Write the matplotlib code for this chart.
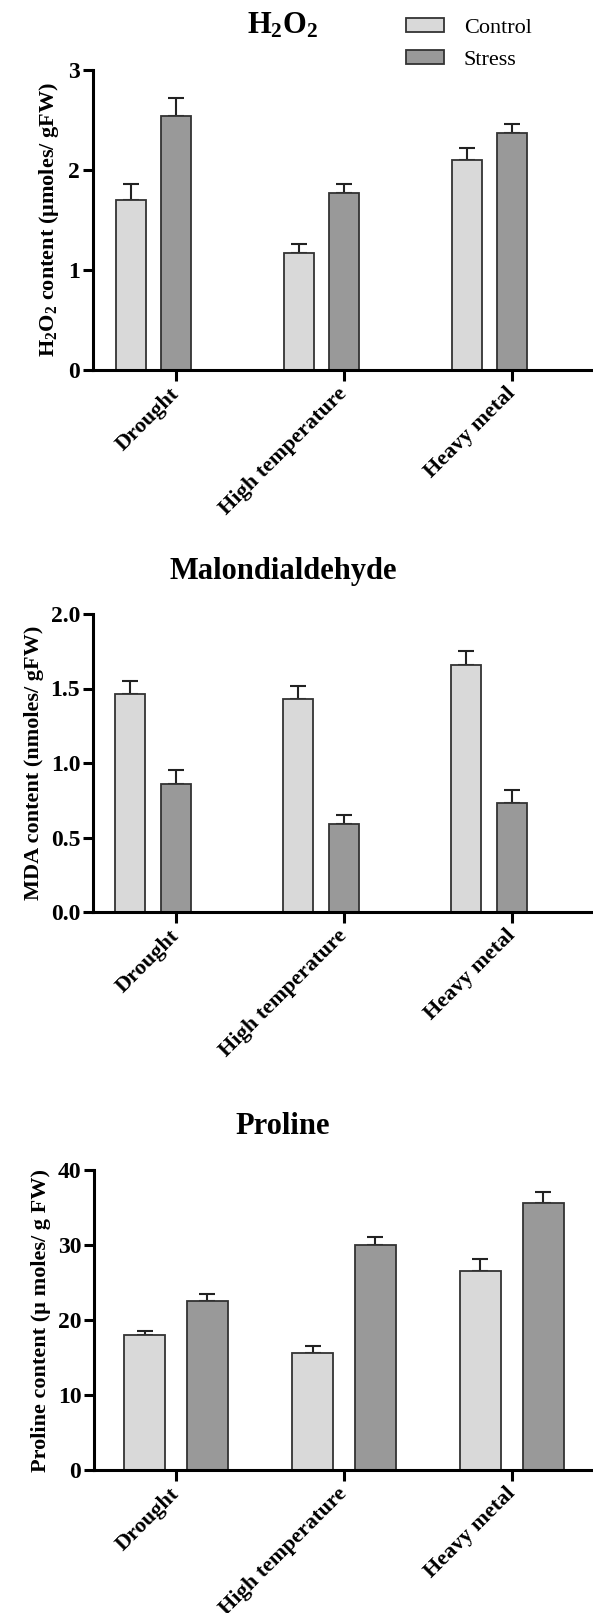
import numpy as np
import matplotlib
matplotlib.use("Agg")
import matplotlib.pyplot as plt

plt.rcParams['font.family'] = ['Liberation Serif', 'DejaVu Serif']
plt.rcParams['mathtext.fontset'] = 'custom'
plt.rcParams['mathtext.rm'] = 'Liberation Serif'
plt.rcParams['mathtext.bf'] = 'Liberation Serif:bold'
plt.rcParams['mathtext.default'] = 'bf'

# data
categories = ['Drought', 'High temperature', 'Heavy metal']

h2o2_control = [1.70, 1.17, 2.10]
h2o2_control_err = [0.16, 0.09, 0.12]
h2o2_stress = [2.54, 1.77, 2.37]
h2o2_stress_err = [0.18, 0.09, 0.09]

mda_control = [1.46, 1.43, 1.66]
mda_control_err = [0.09, 0.09, 0.09]
mda_stress = [0.86, 0.59, 0.73]
mda_stress_err = [0.09, 0.06, 0.09]

pro_control = [18.0, 15.6, 26.6]
pro_control_err = [0.6, 0.9, 1.5]
pro_stress = [22.6, 30.0, 35.6]
pro_stress_err = [0.9, 1.1, 1.5]

c_light = '#d9d9d9'
c_dark = '#999999'
edge = '#333333'

fig = plt.figure(figsize=(5.93, 16.13), dpi=100)
H = 1613.0
W = 593.0


def panel(top_px, bot_px, left_px, ctrl, ctrl_err, strs, strs_err,
          offs, width, ylim, yticks, fmt, ylabel):
    ax = fig.add_axes([left_px / W, 1 - bot_px / H, 1 - left_px / W,
                       (bot_px - top_px) / H])
    x = np.arange(len(categories))
    b1 = ax.bar(x + offs[0], ctrl, width, color=c_light, edgecolor=edge,
                linewidth=1.3, label='Control', zorder=2)
    b2 = ax.bar(x + offs[1], strs, width, color=c_dark, edgecolor=edge,
                linewidth=1.3, label='Stress', zorder=2)
    ax.errorbar(x + offs[0], ctrl, yerr=[np.zeros(3), ctrl_err], fmt='none',
                ecolor='#222222', elinewidth=1.5, capsize=6, capthick=1.5, zorder=1)
    ax.errorbar(x + offs[1], strs, yerr=[np.zeros(3), strs_err], fmt='none',
                ecolor='#222222', elinewidth=1.5, capsize=6, capthick=1.5, zorder=1)

    tick0 = 176.0
    step = 168.0
    ax.set_xlim((left_px - tick0) / step, (W - tick0) / step)
    ax.set_ylim(*ylim)
    ax.set_yticks(yticks)
    ax.set_yticklabels([fmt.format(v) for v in yticks], fontsize=17,
                       fontweight='bold')
    ax.set_xticks(x)
    ax.set_xticklabels(categories, rotation=45, ha='right', va='center',
                       rotation_mode='anchor', fontsize=16, fontweight='bold')
    for s in ['top', 'right']:
        ax.spines[s].set_visible(False)
    for s in ['left', 'bottom']:
        ax.spines[s].set_linewidth(2.2)
    ax.tick_params(axis='y', length=7, width=2.2, pad=2)
    ax.tick_params(axis='x', length=8, width=2.2, pad=7)
    ax.set_ylabel(ylabel, fontsize=16, fontweight='bold', labelpad=5)
    return ax, b1, b2


ax1, h1, h2 = panel(70, 370, 92.7, h2o2_control, h2o2_control_err,
                    h2o2_stress, h2o2_stress_err, (-0.267, 0.0), 0.18,
                    (0, 3), [0, 1, 2, 3], '{:g}',
                    r'H$_2$O$_2$ content (µmoles/ gFW)')
ax2, _, _ = panel(614, 912, 92.7, mda_control, mda_control_err,
                  mda_stress, mda_stress_err, (-0.275, 0.0), 0.18,
                  (0, 2), [0, 0.5, 1.0, 1.5, 2.0], '{:.1f}',
                  'MDA content (nmoles/ gFW)')
ax3, _, _ = panel(1170, 1470, 93.8, pro_control, pro_control_err,
                  pro_stress, pro_stress_err, (-0.1875, 0.186), 0.246,
                  (0, 40), [0, 10, 20, 30, 40], '{:g}',
                  'Proline content (µ moles/ g FW)')

fig.text(283 / W, 1 - 26 / H, r'H$_2$O$_2$', ha='center', va='center',
         fontsize=22, fontweight='bold')
fig.text(283 / W, 1 - 572 / H, 'Malondialdehyde', ha='center', va='center',
         fontsize=22, fontweight='bold')
fig.text(283 / W, 1 - 1126 / H, 'Proline', ha='center', va='center',
         fontsize=22, fontweight='bold')

fig.legend([h1, h2], ['Control', 'Stress'], loc='upper left',
           bbox_to_anchor=(406 / W, 1 - 18 / H), frameon=False,
           prop={'family': 'Liberation Serif', 'size': 16},
           handlelength=1.7, handleheight=0.6, handletextpad=0.9,
           labelspacing=0.55, borderpad=0, borderaxespad=0)

fig.savefig('out.png', dpi=100)
